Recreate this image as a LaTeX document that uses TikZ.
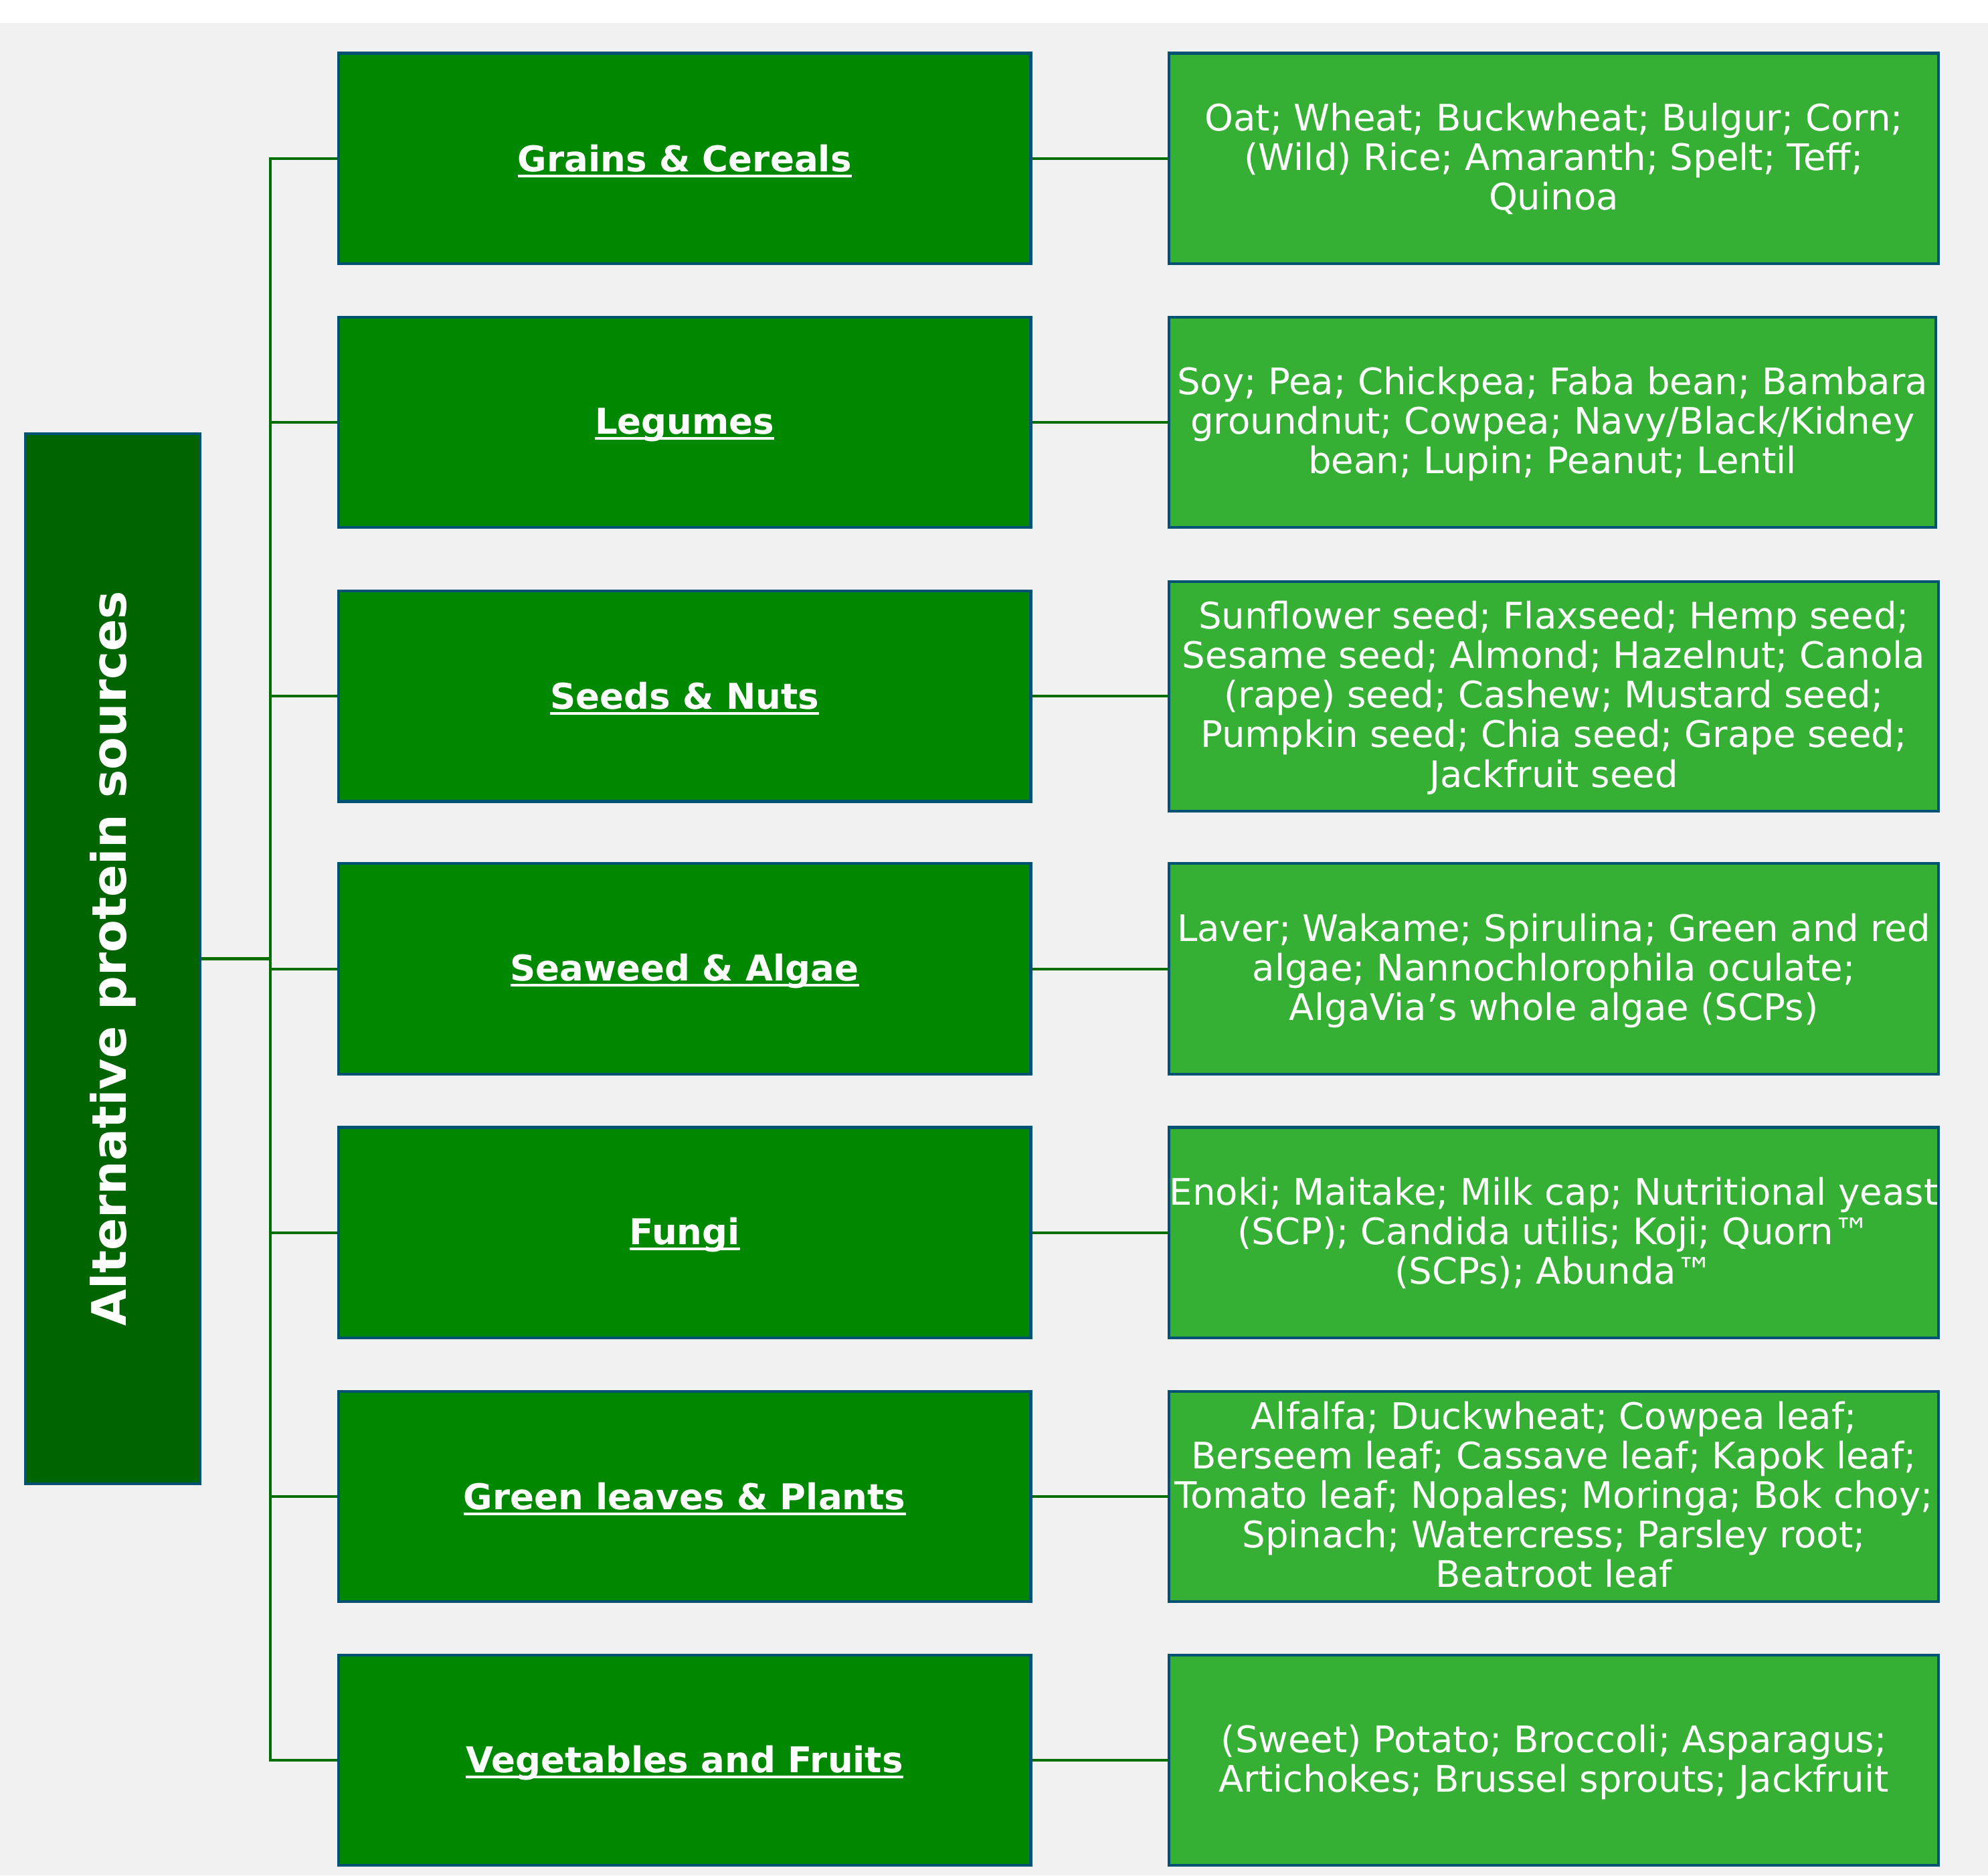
\documentclass[tikz,border=0pt]{standalone}
\usepackage{fontspec}
\setmainfont{DejaVu Sans}
\definecolor{bggray}{RGB}{241,241,241}
\definecolor{rootgreen}{RGB}{0,100,0}
\definecolor{catgreen}{RGB}{0,136,0}
\definecolor{itemgreen}{RGB}{53,176,53}
\definecolor{edgeblue}{RGB}{0,82,115}
\definecolor{linkgreen}{RGB}{0,110,0}
% centred block of lines that never widens its box, set slightly low
\newcommand\fitlines[1]{\makebox[0pt]{\raisebox{-3pt}[\height][\depth]{\begin{tabular}{@{}c@{}}#1\end{tabular}}}}
% thick white underline for the category titles
\newcommand\titleline[1]{\raisebox{-2pt}[\height][\depth]{\setbox0\hbox{#1}\rlap{\rule[-4.5pt]{\wd0}{2.2pt}}\box0}}
\tikzset{
  boxbase/.style={draw=edgeblue, line width=2.2pt, inner sep=0pt, text=white},
  rootbox/.style={boxbase, fill=rootgreen, minimum width=138pt, minimum height=828pt,
    font=\fontsize{37.5}{45}\selectfont\bfseries},
  catbox/.style={boxbase, fill=catgreen, minimum width=546pt, minimum height=166pt,
    font=\fontsize{28}{31}\selectfont\bfseries},
  itembox/.style={boxbase, fill=itemgreen, minimum width=607pt, minimum height=166pt,
    font=\fontsize{28.8}{31}\selectfont},
  link/.style={draw=linkgreen, line width=2.2pt}
}
\begin{document}
\begin{tikzpicture}[x=1pt,y=-1pt]
\useasboundingbox (0,0) rectangle (1568,1479);
\fill[white] (0,0) rectangle (1568,18);
\fill[bggray] (0,18) rectangle (1568,1479);

% root
\node[rootbox] (root) at (89,756) {\rotatebox{90}{Alternative protein sources}};

% categories
\node[catbox] (c1) at (540,125)  {\titleline{Grains \& Cereals}};
\node[catbox] (c2) at (540,333)  {\titleline{Legumes}};
\node[catbox] (c3) at (540,549)  {\titleline{Seeds \& Nuts}};
\node[catbox] (c4) at (540,764)  {\titleline{Seaweed \& Algae}};
\node[catbox] (c5) at (540,972)  {\titleline{Fungi}};
\node[catbox] (c6) at (540,1180) {\titleline{Green leaves \& Plants}};
\node[catbox] (c7) at (540,1388) {\titleline{Vegetables and Fruits}};

% examples
\node[itembox] (e1) at (1225.5,125) {\fitlines{Oat; Wheat; Buckwheat; Bulgur; Corn;\\(Wild) Rice; Amaranth; Spelt; Teff;\\Quinoa}};
\node[itembox, minimum width=605pt] (e2) at (1224.5,333) {\fitlines{Soy; Pea; Chickpea; Faba bean; Bambara\\groundnut; Cowpea; Navy/Black/Kidney\\bean; Lupin; Peanut; Lentil}};
\node[itembox, minimum height=181pt] (e3) at (1225.5,549) {\fitlines{Sunflower seed; Flaxseed; Hemp seed;\\Sesame seed; Almond; Hazelnut; Canola\\(rape) seed; Cashew; Mustard seed;\\Pumpkin seed; Chia seed; Grape seed;\\Jackfruit seed}};
\node[itembox] (e4) at (1225.5,764) {\fitlines{Laver; Wakame; Spirulina; Green and red\\algae; Nannochlorophila oculate;\\AlgaVia’s whole algae (SCPs)}};
\node[itembox] (e5) at (1225.5,972) {\fitlines{Enoki; Maitake; Milk cap; Nutritional yeast\\(SCP); Candida utilis; Koji; Quorn™\\(SCPs); Abunda™}};
\node[itembox] (e6) at (1225.5,1180) {\fitlines{Alfalfa; Duckwheat; Cowpea leaf;\\Berseem leaf; Cassave leaf; Kapok leaf;\\Tomato leaf; Nopales; Moringa; Bok choy;\\Spinach; Watercress; Parsley root;\\Beatroot leaf}};
\node[itembox] (e7) at (1225.5,1388) {\fitlines{(Sweet) Potato; Broccoli; Asparagus;\\Artichokes; Brussel sprouts; Jackfruit}};

% connectors: shared vertical bus, then one stub per box
\coordinate (bus) at (213,0);
\draw[link] (c1.west) -- (c1.west -| bus) -- (c7.west -| bus) -- (c7.west);
\foreach \i in {2,...,6} {\draw[link] (c\i.west) -- (c\i.west -| bus);}
\draw[link] (root.east) -- (root.east -| bus);
\foreach \i in {1,...,7} {\draw[link] (c\i.east) -- (e\i.west);}
\end{tikzpicture}
\end{document}
